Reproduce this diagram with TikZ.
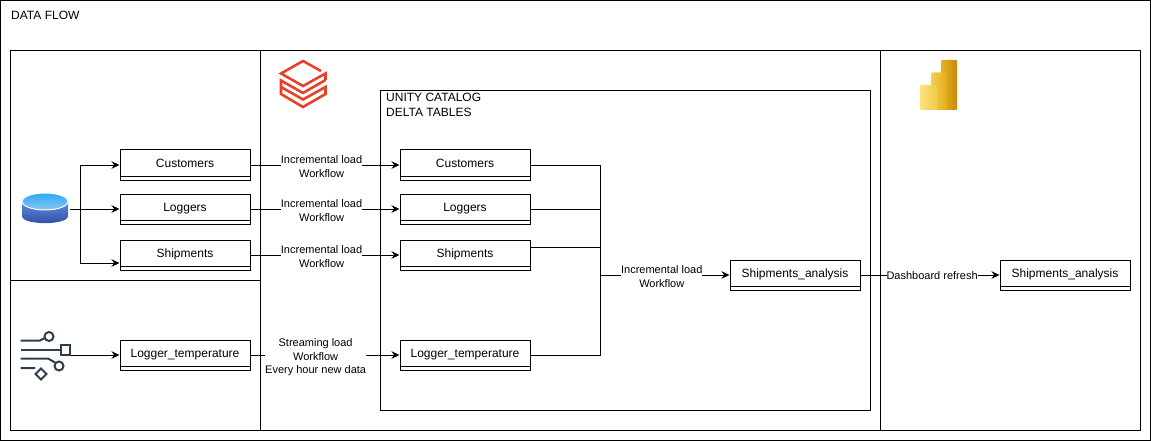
\documentclass[tikz,border=0pt]{standalone}
\usepackage{fontspec}
\setmainfont{Liberation Sans}
\usetikzlibrary{arrows.meta}

\tikzset{
  tablebox/.style={draw,line width=1pt,minimum width=130pt,inner sep=0pt,text height=17.5pt,text depth=12.5pt,
    font=\fontsize{12}{14}\selectfont,
    path picture={\draw[line width=1pt] ([yshift=4pt]path picture bounding box.south west) -- ([yshift=4pt]path picture bounding box.south east);}},
  flowlabel/.style={fill=white,inner sep=0pt,align=center,yshift=-1.5pt,font=\fontsize{11}{13.5}\selectfont},
  frametext/.style={anchor=north west,inner sep=0pt,align=left,font=\fontsize{12}{15}\selectfont},
  link/.style={line width=1pt,-{Stealth[length=8pt,width=7.5pt]}},
  wire/.style={line width=1pt},
  framing/.style={line width=1pt}
}
\definecolor{brickred}{HTML}{E8412A}
\definecolor{slateicon}{HTML}{2D3E50}
\definecolor{dbtop}{HTML}{2FA8F5}
\definecolor{dbmid}{HTML}{86C8F2}
\definecolor{dbside}{HTML}{5F8EDC}
\definecolor{dblow}{HTML}{2B4AA3}
\definecolor{barhighl}{HTML}{E8B21E}
\definecolor{barhighr}{HTML}{C78A0E}
\definecolor{barmidl}{HTML}{F4CF50}
\definecolor{barmidr}{HTML}{E4AC1C}
\definecolor{barlowl}{HTML}{FAE27F}
\definecolor{barlowr}{HTML}{F2CB45}

\begin{document}
\begin{tikzpicture}[x=1pt,y=-1pt,line join=miter]
    \useasboundingbox (0,0) rectangle (1151,441);
    % frames
    \draw[framing] (0.5,0.5) rectangle (1150.5,440.5);
    \draw[framing] (10.5,50.5) rectangle (1140.5,430.5);
    \draw[framing] (260.5,50.5) -- (260.5,430.5);
    \draw[framing] (880.5,50.5) -- (880.5,430.5);
    \draw[framing] (10.5,280.5) -- (260.5,280.5);
    \draw[framing] (380.5,90.5) rectangle (870.5,410.5);
    \node[frametext] (flowTitle) at (11,11) {DATA FLOW};
    \node[frametext] (catalogTitle) at (386,93) {UNITY CATALOG\\DELTA TABLES};

    % source tables
    \node[tablebox] (srcCustomers) at (185,165) {Customers};
    \node[tablebox] (srcLoggers) at (185,209) {Loggers};
    \node[tablebox] (srcShipments) at (185,255) {Shipments};
    \node[tablebox] (srcTemperature) at (185,355) {Logger\_temperature};

    % delta tables
    \node[tablebox] (dltCustomers) at (465,165) {Customers};
    \node[tablebox] (dltLoggers) at (465,209) {Loggers};
    \node[tablebox] (dltShipments) at (465,255) {Shipments};
    \node[tablebox] (dltTemperature) at (465,355) {Logger\_temperature};
    \node[tablebox] (dltAnalysis) at (795,275) {Shipments\_analysis};
    \node[tablebox] (biAnalysis) at (1065,275) {Shipments\_analysis};

    % database icon
    \shade[top color=dbside,bottom color=dblow]
      (22,201) -- (22,216) .. controls (22,225.5) and (68,225.5) .. (68,216) -- (68,201) -- cycle;
    \shade[top color=dbtop,bottom color=dbmid,draw=white,line width=1pt]
      (45,201.5) ellipse[x radius=23,y radius=8.5];
    \coordinate (dbIcon) at (70,209);
    \coordinate (dbFork) at (80,209);
    \draw[link] (dbIcon) -- (srcLoggers.west);
    \draw[link] (dbFork) |- (srcCustomers.west);
    \draw[link] (dbFork) |- ([yshift=-8pt]srcShipments.west);

    % stream icon
    \begin{scope}[draw=slateicon,line width=2pt]
      \draw (20.5,340.5) -- (40,340.5) -- (44.5,338) (49,336.5) circle[radius=4.5];
      \draw (20.5,350) -- (60,350) (60.5,345) rectangle (70,354.5);
      \draw (20.5,358.5) -- (48,358.5) -- (55,362.5) (59,366) circle[radius=4.5];
      \draw (20.5,368) -- (35,368) (41,368.5) -- (46.5,374) -- (41,379.5) -- (35.5,374) -- cycle;
    \end{scope}
    \coordinate (streamIcon) at (71,355);
    \draw[link] (streamIcon) -- (srcTemperature.west);

    % load workflows
    \draw[link] (srcCustomers.east) -- node[flowlabel,pos=.477]  (loadCustomers) {Incremental load\\Workflow} (dltCustomers.west);
    \draw[link] (srcLoggers.east) -- node[flowlabel,pos=.477] (loadLoggers) {Incremental load\\Workflow} (dltLoggers.west);
    \draw[link] (srcShipments.east) -- node[flowlabel,pos=.477] (loadShipments) {Incremental load\\Workflow} (dltShipments.west);
    \draw[link] (srcTemperature.east) -- node[flowlabel,pos=.437,yshift=-1pt] (loadTemperature) {Streaming load\\Workflow\\Every hour new data} (dltTemperature.west);

    % merge into analysis
    \coordinate (mergeTop) at (600,165);
    \coordinate (mergeBottom) at (600,355);
    \draw[wire] (dltCustomers.east) -- (mergeTop) -- (mergeBottom) -- (dltTemperature.east);
    \draw[wire] (dltLoggers.east) -- (dltLoggers.east -| mergeTop);
    \draw[wire] ([yshift=8pt]dltShipments.east) -- ([yshift=8pt]dltShipments.east -| mergeTop);
    \coordinate (mergeOut) at (600,275);
    \draw[link] (mergeOut) -- node[flowlabel,pos=.477] (loadAnalysis) {Incremental load\\Workflow} (dltAnalysis.west);
    \draw[link] (dltAnalysis.east) -- node[flowlabel,pos=.515,yshift=1pt] (refreshBi) {Dashboard refresh} (biAnalysis.west);

    % databricks icon
    \begin{scope}[draw=brickred,line width=2.6pt]
      \draw (321,71) -- (303,61) -- (281,73.5) -- (303,86) -- (325.5,73.5) -- (325.5,80);
      \draw (325.5,80) -- (303,93) -- (281,80.5) -- (281,87) -- (303,99.5) -- (325.5,87) -- (325.5,94) -- (303,107) -- (281,94) -- (281,88);
    \end{scope}

    % power bi icon
    \shade[left color=barhighl,right color=barhighr,rounded corners=1pt]
      (941,60) rectangle (957,110);
    \shade[left color=barmidl,right color=barmidr,rounded corners=1pt]
      (931,72.5) rectangle (947,110);
    \shade[left color=barlowl,right color=barlowr,rounded corners=1pt]
      (920,85) rectangle (937,110);
  \end{tikzpicture}
\end{document}
